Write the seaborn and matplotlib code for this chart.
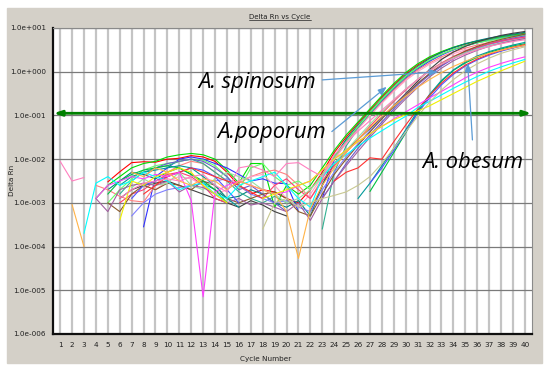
import pandas as pd
import seaborn as sns
import matplotlib.pyplot as plt
from matplotlib.patches import Rectangle
from matplotlib.lines import Line2D

N = None
cycles = list(range(1, 41))
threshold = 0.112
y_ticks = [1e1, 1e0, 1e-1, 1e-2, 1e-3, 1e-4, 1e-5, 1e-6]
y_labels = ['1.0e+001', '1.0e+000', '1.0e-001', '1.0e-002',
            '1.0e-003', '1.0e-004', '1.0e-005', '1.0e-006']

# log10(Delta Rn) per well, None where Delta Rn is not positive
red_1 = [N, N, N, N, -2.52, -2.29, -2.08, -2.06, -2.07, -2.00,
         -1.98, -1.92, -1.95, -2.05, -2.30, -2.60, -2.80, -2.70, -2.75, -2.90,
         -3.00, -2.70, -2.30, -1.85, -1.50, -1.18, -0.88, -0.58, -0.30, -0.05,
         0.15, 0.32, 0.45, 0.55, 0.63, 0.70, 0.75, 0.80, 0.84, 0.88]
green_1 = [N, N, N, -2.90, -2.60, -2.40, -2.20, -2.10, -2.05, -1.95,
           -1.90, -1.87, -1.90, -2.00, -2.25, -2.55, -2.10, -2.10, -3.10, -2.60,
           -2.80, -2.60, -2.20, -1.80, -1.45, -1.15, -0.85, -0.55, -0.27, -0.02,
           0.18, 0.34, 0.46, 0.56, 0.64, 0.70, 0.75, 0.80, 0.84, 0.87]
blue_1 = [N, N, N, N, N, N, N, -3.55, -2.40, -2.20,
          -2.00, -1.95, -2.00, -2.10, -2.20, -2.35, -2.50, -2.45, -2.55, -2.56,
          -3.20, N, -2.90, -2.00, -1.60, -1.28, -0.98, -0.68, -0.40, -0.15,
          0.06, 0.24, 0.38, 0.50, 0.59, 0.66, 0.72, 0.77, 0.81, 0.85]
teal_1 = [N, N, N, N, -2.70, -2.50, -2.30, -2.35, -2.45, -2.30,
          -2.20, -2.35, -2.55, -2.70, -2.90, -2.85, -2.70, -2.80, -3.00, -3.10,
          -2.95, -3.30, -2.60, -1.95, -1.55, -1.22, -0.92, -0.62, -0.34, -0.08,
          0.12, 0.30, 0.44, 0.55, 0.64, 0.71, 0.77, 0.82, 0.86, 0.90]
salmon_1 = [N, N, N, -2.60, -2.70, -2.85, -2.95, -2.98, -2.60, -2.30,
            -2.15, -2.05, -2.10, -2.30, -2.50, -2.55, -2.40, -2.30, -2.25, -2.35,
            -2.60, -2.90, -2.45, -2.00, -1.62, -1.30, -1.00, -0.70, -0.42, -0.17,
            0.04, 0.20, 0.34, 0.45, 0.54, 0.61, 0.67, 0.72, 0.76, 0.80]
seagreen_1 = [N, N, N, N, N, -2.80, -2.50, -2.30, -2.20, -2.15,
              -2.05, -2.00, -2.10, -2.30, -2.50, -2.75, -2.90, -3.00, -2.85, -3.00,
              N, N, -3.60, -2.30, -1.70, -1.30, -0.96, -0.65, -0.37, -0.12,
              0.09, 0.26, 0.40, 0.51, 0.60, 0.67, 0.73, 0.78, 0.82, 0.86]
ltpink_1 = [N, N, N, N, N, N, N, N, -2.70, -2.50,
            -2.40, -2.45, -2.60, -2.80, -2.70, -2.50, -2.40, -2.35, -2.60, -2.90,
            -3.10, -2.80, -2.40, -2.00, -1.65, -1.32, -1.00, -0.72, -0.45, -0.20,
            0.00, 0.17, 0.30, 0.41, 0.50, 0.57, 0.63, 0.68, 0.73, 0.77]
lime_1 = [N, N, N, N, -3.00, -2.70, -2.45, -2.25, -2.15, -2.10,
          -2.05, -2.00, -2.02, -2.15, -2.40, -2.70, -2.20, -2.10, -2.40, -2.60,
          -2.50, -2.70, -2.35, -1.95, -1.60, -1.25, -0.93, -0.63, -0.35, -0.10,
          0.10, 0.27, 0.40, 0.51, 0.59, 0.66, 0.71, 0.76, 0.80, 0.83]
dkgray_2 = [N, N, N, N, N, -2.90, -2.70, -2.60, -2.55, -2.50,
            -2.60, -2.70, -2.80, -2.90, -3.00, -3.10, -2.95, -3.05, -3.20, -3.30,
            N, -3.20, -2.60, -2.10, -1.80, -1.55, -1.30, -1.05, -0.77, -0.50,
            -0.22, 0.05, 0.28, 0.45, 0.58, 0.68, 0.76, 0.83, 0.88, 0.92]
ltblue_2 = [N, N, N, N, N, N, -3.30, -3.00, -2.80, -2.70,
            -2.65, -2.60, -2.55, -2.50, -2.45, -2.60, -2.80, -2.90, -3.00, -2.95,
            -3.10, -3.20, -2.70, -2.30, -1.95, -1.65, -1.35, -1.06, -0.78, -0.52,
            -0.27, -0.05, 0.14, 0.30, 0.43, 0.53, 0.62, 0.69, 0.75, 0.80]
violet_2 = [N, N, N, N, N, N, N, -2.40, -2.20, -2.10,
            -2.05, -2.00, -2.05, -2.20, -2.40, -2.70, -2.60, -2.80, -3.00, -3.20,
            N, N, -2.90, -2.50, -2.10, -1.75, -1.45, -1.15, -0.85, -0.57,
            -0.30, -0.07, 0.13, 0.30, 0.44, 0.55, 0.64, 0.71, 0.77, 0.82]
rose_2 = [N, N, N, N, N, -3.00, -2.80, -2.70, -2.50, -2.35,
          -2.30, -2.40, -2.60, -2.90, -3.00, N, N, -2.90, -2.60, -2.45,
          -2.70, -2.90, -2.50, -2.15, -1.85, -1.55, -1.25, -0.96, -0.68, -0.42,
          -0.18, 0.03, 0.20, 0.35, 0.47, 0.56, 0.64, 0.70, 0.75, 0.79]
brown_2 = [N, N, N, N, -3.00, -3.20, -2.80, -2.60, -2.70, -2.55,
           -2.60, -2.70, -2.50, -2.60, -2.90, -3.00, -2.90, -2.80, -2.75, -2.90,
           -3.20, -3.30, -2.80, -2.35, -2.00, -1.68, -1.38, -1.08, -0.80, -0.53,
           -0.27, -0.04, 0.16, 0.33, 0.47, 0.58, 0.67, 0.74, 0.80, 0.86]
mint_2 = [N, N, N, N, N, N, -2.65, -2.45, -2.60, -2.55,
          -2.30, -2.60, -2.70, -2.45, -2.30, -2.40, -2.50, -2.70, -2.80, -3.00,
          -2.90, -2.70, -2.40, -2.10, -1.80, -1.50, -1.20, -0.92, -0.65, -0.40,
          -0.18, 0.02, 0.18, 0.32, 0.43, 0.52, 0.60, 0.66, 0.71, 0.75]
purple_2 = [N, N, N, -2.90, -3.20, -2.70, -2.60, -2.55, -2.60, -2.50,
            -2.75, -2.60, -2.65, -2.80, -3.00, -2.90, -3.05, -3.00, -3.10, -3.20,
            -3.00, -3.40, -2.90, -2.50, -2.15, -1.82, -1.50, -1.20, -0.90, -0.62,
            -0.36, -0.12, 0.08, 0.25, 0.38, 0.49, 0.58, 0.65, 0.71, 0.76]
green_3 = [N, N, N, N, -2.80, -2.50, -2.35, -2.25, -2.20, -2.15,
           -2.20, -2.35, -2.50, -2.70, -3.00, N, N, N, N, N,
           N, N, N, N, N, N, -2.74, -2.30, -1.85, -1.40,
           -0.93, -0.55, -0.22, 0.03, 0.20, 0.33, 0.44, 0.52, 0.59, 0.64]
teal_3 = [N, N, N, N, N, -2.60, -2.40, -2.30, -2.25, -2.20,
          -2.15, -2.20, -2.40, -2.60, -2.90, -3.10, N, N, N, N,
          N, N, N, N, N, -2.90, -2.55, -2.15, -1.75, -1.33,
          -0.90, -0.52, -0.20, 0.04, 0.22, 0.36, 0.46, 0.54, 0.61, 0.67]
blue_3 = [N, N, N, N, N, N, -2.90, -2.60, -2.50, -2.40,
          -2.30, -2.20, -2.25, -2.40, -2.70, -3.00, N, N, N, N,
          N, N, N, N, N, N, -2.55, -2.20, -1.80, -1.38,
          -0.95, -0.60, -0.30, -0.06, 0.13, 0.27, 0.38, 0.47, 0.54, 0.60]
red_3 = [N, N, N, N, N, N, N, -2.80, -2.60, -2.40,
         -2.30, -2.20, -2.30, -2.40, -2.50, -2.60, -2.75, -2.90, N, N,
         N, N, N, -2.50, -2.30, -2.20, -1.97, -2.00, -1.60, -1.22,
         -0.86, -0.54, -0.26, -0.03, 0.15, 0.29, 0.40, 0.49, 0.56, 0.62]
magenta_4 = [N, N, N, -2.90, -2.60, -2.50, -2.40, -2.45, -2.35, -2.40,
             -2.30, -2.95, -5.15, -2.75, -2.60, -2.50, -2.60, -2.70, -2.80, -2.75,
             -2.60, -2.50, -2.25, -2.00, -1.80, -1.60, -1.42, -1.25, -1.08, -0.92,
             -0.76, -0.60, -0.45, -0.30, -0.14, -0.01, 0.10, 0.19, 0.27, 0.34]
cyan_4 = [N, N, -3.70, -2.55, -2.40, -2.60, -2.50, -2.30, -2.40, -2.50,
          -2.70, -2.60, -2.55, -2.80, -2.90, -2.60, -2.50, -2.40, -2.30, -2.60,
          -2.90, -3.10, -2.40, -2.10, -1.90, -1.70, -1.52, -1.35, -1.18, -1.02,
          -0.82, -0.68, -0.53, -0.38, -0.24, -0.11, 0.01, 0.11, 0.20, 0.28]
yellow_4 = [N, N, N, N, N, -3.40, -2.50, -2.60, -2.40, -2.30,
            -2.20, -2.30, -2.60, -2.80, -3.00, N, N, -2.90, -2.80, -2.70,
            -2.60, -2.50, -2.24, -2.00, -1.80, -1.60, -1.42, -1.25, -1.10, -0.98,
            -0.90, -0.78, -0.64, -0.50, -0.36, -0.22, -0.10, 0.02, 0.13, 0.24]
orange_4 = [N, -3.04, -4.00, N, N, N, -2.30, -2.40, -2.20, -2.30,
            -2.50, -2.60, -2.45, -2.50, -2.70, -2.50, -2.60, -2.70, -2.80, -3.20,
            -4.27, -3.13, -2.60, -2.20, -1.85, -1.55, -1.28, -1.02, -0.78, -0.56,
            -0.36, -0.18, -0.02, 0.12, 0.24, 0.34, 0.42, 0.49, 0.55, 0.60]
khaki_4 = [N, N, N, N, N, N, N, N, N, N,
           N, N, N, N, N, N, N, -3.60, -3.00, -2.90,
           -3.10, -3.00, -2.90, -2.83, -2.75, -2.60, -2.40, -2.10, -1.75, -1.38,
           -1.02, -0.70, -0.42, -0.18, 0.02, 0.18, 0.31, 0.42, 0.50, 0.57]
pink_4 = [-2.05, -2.50, -2.42, N, N, -2.90, -2.70, -2.55, -2.50, -2.45,
          -2.50, -2.40, -2.35, -2.60, -2.75, -2.20, -2.15, -2.25, -2.40, -2.10,
          -2.08, -2.25, -2.40, -1.90, -1.62, -1.36, -1.12, -0.88, -0.64, -0.40,
          -0.18, 0.01, 0.17, 0.30, 0.41, 0.50, 0.58, 0.64, 0.69, 0.73]

wells = {
    'red_1': red_1, 'green_1': green_1, 'blue_1': blue_1, 'teal_1': teal_1,
    'salmon_1': salmon_1, 'seagreen_1': seagreen_1, 'ltpink_1': ltpink_1,
    'lime_1': lime_1, 'dkgray_2': dkgray_2, 'ltblue_2': ltblue_2,
    'violet_2': violet_2, 'rose_2': rose_2, 'brown_2': brown_2,
    'mint_2': mint_2, 'purple_2': purple_2, 'green_3': green_3,
    'teal_3': teal_3, 'blue_3': blue_3, 'red_3': red_3,
    'magenta_4': magenta_4, 'cyan_4': cyan_4, 'yellow_4': yellow_4,
    'orange_4': orange_4, 'khaki_4': khaki_4, 'pink_4': pink_4,
}
colors = {
    'red_1': '#ff0000', 'green_1': '#00dd00', 'blue_1': '#3030ff',
    'teal_1': '#008080', 'salmon_1': '#ff7f7f', 'seagreen_1': '#30b090',
    'ltpink_1': '#ffa0c8', 'lime_1': '#66ff66', 'dkgray_2': '#404040',
    'ltblue_2': '#8080ff', 'violet_2': '#6a5acd', 'rose_2': '#ff4070',
    'brown_2': '#8b5a2b', 'mint_2': '#98e0a0', 'purple_2': '#a060a0',
    'green_3': '#00c040', 'teal_3': '#009999', 'blue_3': '#5050ff',
    'red_3': '#ff3030', 'magenta_4': '#ff40ff', 'cyan_4': '#00ffff',
    'yellow_4': '#f0f000', 'orange_4': '#ffb347', 'khaki_4': '#c8c890',
    'pink_4': '#ff80c0',
}

# long form, one unit per unbroken run so gaps stay gaps
rows = []
for name, vals in wells.items():
    seg, prev = 0, False
    for c, v in zip(cycles, vals):
        if v is None:
            prev = False
            continue
        if not prev:
            seg += 1
        rows.append((name, f'{name}_{seg}', c, 10 ** v))
        prev = True
df = pd.DataFrame(rows, columns=['well', 'run', 'cycle', 'rn'])

sns.set_style('white')
plt.rcParams['font.family'] = ['DejaVu Sans']

fig = plt.figure(figsize=(5.5, 3.73), dpi=100)
fig.patches.append(Rectangle((7 / 550, 10 / 373), 535 / 550, 355 / 373,
                             transform=fig.transFigure, color='#d4d0c8', zorder=-5))
ax = fig.add_axes([53 / 550, 1 - 334 / 373, 479 / 550, 306 / 373])
ax.set_zorder(2)
ax.set_facecolor('white')

sns.lineplot(data=df, x='cycle', y='rn', hue='well', units='run', estimator=None,
             palette=colors, hue_order=list(wells), legend=False, lw=0.8, ax=ax)

ax.set_yscale('log')
ax.set_ylim(1e-6, 1e1)
ax.set_xlim(0.4, 40.6)
ax.set_yticks(y_ticks)
ax.set_yticklabels(y_labels)
ax.minorticks_off()
ax.set_xticks(cycles)
ax.set_xticklabels([str(c) for c in cycles])
ax.tick_params(length=0, labelsize=5.2, colors='#202020')
ax.tick_params(axis='y', pad=5)
ax.tick_params(axis='x', pad=6)
ax.set_xlabel('')
ax.set_ylabel('')
ax.grid(axis='x', color='#c4c4c4', lw=1.6)
ax.grid(axis='y', color='#7a7a7a', lw=0.9)
ax.set_axisbelow(True)
for side in ['left', 'bottom']:
    ax.spines[side].set_color('#101010')
    ax.spines[side].set_linewidth(1.6)
for side in ['top', 'right']:
    ax.spines[side].set_color('#8a8a8a')
    ax.spines[side].set_linewidth(0.8)

# threshold
ax.annotate('', xy=(40.55, threshold), xytext=(0.45, threshold),
            arrowprops=dict(arrowstyle='<|-|>,head_length=0.45,head_width=0.15',
                            color='#008000', lw=2, shrinkA=0, shrinkB=0), zorder=5)

label_kw = dict(fontsize=15.8, style='italic', family=['Open Sans', 'DejaVu Sans'],
                color='black', va='baseline', zorder=6)
arrow_kw = dict(arrowstyle='-|>,head_length=0.5,head_width=0.2', color='#5b9bd5',
                lw=0.9, shrinkA=0, shrinkB=0)
ax.text(12.6, 0.427, 'A. spinosum', **label_kw)
ax.text(14.2, 0.031, 'A.poporum', **label_kw)
ax.text(31.4, 0.0064, 'A. obesum', **label_kw)
ax.annotate('', xy=(32.7, 0.99), xytext=(23.0, 0.65), arrowprops=arrow_kw, zorder=6)
ax.annotate('', xy=(28.4, 0.45), xytext=(23.8, 0.0427), arrowprops=arrow_kw, zorder=6)
ax.annotate('', xy=(35.2, 1.58), xytext=(35.6, 0.0275), arrowprops=arrow_kw, zorder=6)

title = fig.text(280 / 550, 1 - 17 / 373, 'Delta Rn vs Cycle', fontsize=5,
                 ha='center', va='center', color='#202020')
fig.text(266 / 550, 1 - 359 / 373, 'Cycle Number', fontsize=5.2,
         ha='center', va='center', color='#202020')
fig.text(12 / 550, 1 - 180 / 373, 'Delta Rn', fontsize=5.2, rotation=90,
         ha='center', va='center', color='#202020')

# underline the title
fig.canvas.draw()
bb = title.get_window_extent().transformed(fig.transFigure.inverted())
fig.add_artist(Line2D([bb.x0, bb.x1], [bb.y0 + 0.001, bb.y0 + 0.001],
                      color='#202020', lw=0.5))

fig.savefig('out.png', dpi=100)
